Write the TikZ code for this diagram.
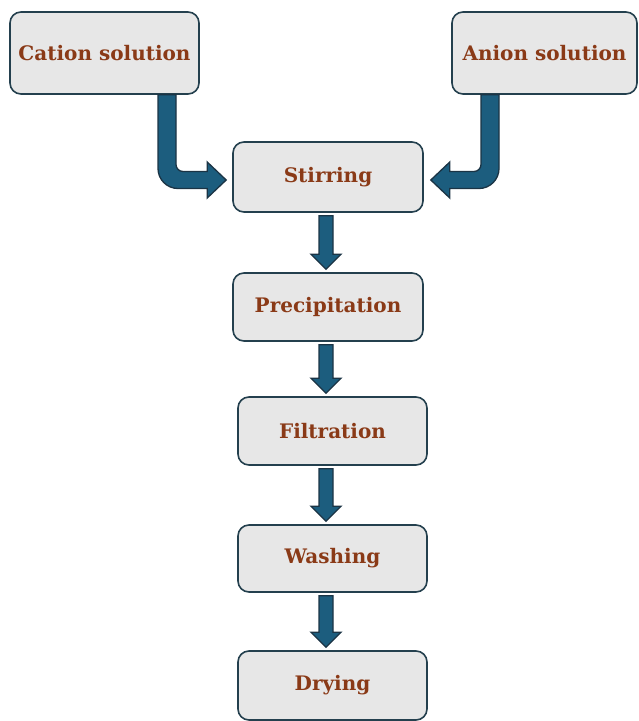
\documentclass[tikz,border=0pt]{standalone}
\usepackage{fontspec}
\setmainfont{DejaVu Serif}
\usetikzlibrary{calc}

\definecolor{boxfill}{HTML}{E7E7E7}
\definecolor{boxedge}{HTML}{24404E}
\definecolor{textbrown}{HTML}{8A3A17}
\definecolor{arrowblue}{HTML}{1C5D7E}
\definecolor{arrowedge}{HTML}{1B3445}

\tikzstyle{pbox}=[draw=boxedge,line width=1.6pt,
                  shape=rectangle,rounded corners=11pt,
                  minimum width=189pt,minimum height=68pt,
                  inner sep=4pt,text badly centered,
                  fill=boxfill,text=textbrown,
                  font=\fontsize{20}{24}\selectfont\bfseries]
\tikzstyle{blockarrow}=[fill=arrowblue,draw=arrowedge,
                        line width=1.3pt,line join=miter]

% straight block arrow down the spine, from box #1 to box #2
\newcommand{\flowarrow}[2]{%
  \draw[blockarrow] let \p1=(#1.south -| Spine), \p2=(#2.north -| Spine) in
    (\x1-7pt,\y1-3pt) -- (\x1-7pt,\y2+18pt) -- (\x1-15pt,\y2+18pt) --
    (\x1,\y2+3pt) -- (\x1+15pt,\y2+18pt) -- (\x1+7pt,\y2+18pt) --
    (\x1+7pt,\y1-3pt) -- cycle;}

\begin{document}
\begin{tikzpicture}[x=1pt,y=1pt]
  \useasboundingbox (0,0) rectangle (638,-721);

  \coordinate (Cation) at (104.5,-53);
  \coordinate (Anion) at (544.5,-53);
  \coordinate (Stirring) at (328,-177);
  \coordinate (Precipitation) at (328,-307);
  \coordinate (Filtration) at (332.5,-431);
  \coordinate (Washing) at (332.5,-558.5);
  \coordinate (Drying) at (332.5,-685.5);
  \coordinate (CationDrop) at (167,0);
  \coordinate (AnionDrop) at (490,0);
  \coordinate (Spine) at (326,0);

  \node[pbox,minimum height=82pt] (CationBox) at (Cation) {Cation solution};
  \node[pbox,minimum width=185pt,minimum height=82pt] (AnionBox) at (Anion) {Anion solution};
  \node[pbox,minimum width=190pt,minimum height=70pt] (StirringBox) at (Stirring) {Stirring};
  \node[pbox,minimum width=190pt] (PrecipitationBox) at (Precipitation) {Precipitation};
  \node[pbox] (FiltrationBox) at (Filtration) {Filtration};
  \node[pbox,minimum height=67pt] (WashingBox) at (Washing) {Washing};
  \node[pbox,minimum height=69pt] (DryingBox) at (Drying) {Drying};

  % bent arrows into the stirring step
  \draw[blockarrow] let \p1=(CationBox.south -| CationDrop), \p2=(StirringBox.west) in
    (\x1-9pt,\y1) -- (\x1-9pt,\y2+8.5pt) arc[start angle=180,end angle=270,radius=20pt] --
    (\x2-25pt,\y2-11.5pt) -- (\x2-25pt,\y2-21pt) -- (\x2-6pt,\y2-3pt) --
    (\x2-25pt,\y2+15pt) -- (\x2-25pt,\y2+5.5pt) --
    (\x1+16pt,\y2+5.5pt) arc[start angle=270,end angle=180,radius=7pt] --
    (\x1+9pt,\y1) -- cycle;
  \draw[blockarrow] let \p1=(AnionBox.south -| AnionDrop), \p2=(StirringBox.east) in
    (\x1+9pt,\y1) -- (\x1+9pt,\y2+8.5pt) arc[start angle=0,end angle=-90,radius=20pt] --
    (\x2+26pt,\y2-11.5pt) -- (\x2+26pt,\y2-21pt) -- (\x2+7pt,\y2-3pt) --
    (\x2+26pt,\y2+15pt) -- (\x2+26pt,\y2+5.5pt) --
    (\x1-16pt,\y2+5.5pt) arc[start angle=-90,end angle=0,radius=7pt] --
    (\x1-9pt,\y1) -- cycle;

  \flowarrow{StirringBox}{PrecipitationBox}
  \flowarrow{PrecipitationBox}{FiltrationBox}
  \flowarrow{FiltrationBox}{WashingBox}
  \flowarrow{WashingBox}{DryingBox}
\end{tikzpicture}
\end{document}
